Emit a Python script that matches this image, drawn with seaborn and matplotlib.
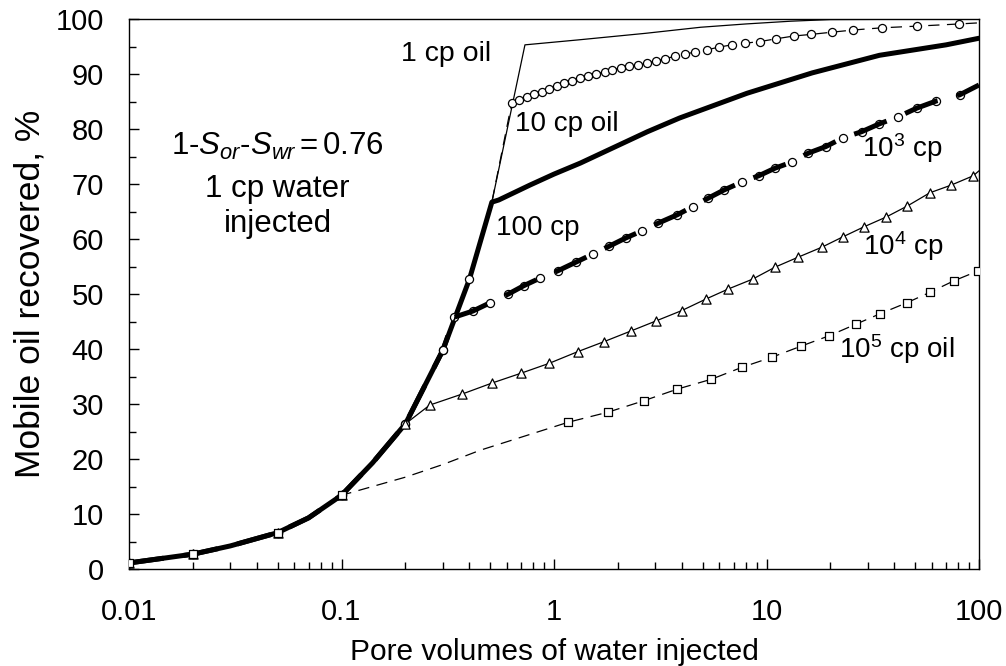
import matplotlib
matplotlib.use("Agg")
import matplotlib.pyplot as plt
from matplotlib.ticker import FixedLocator, FixedFormatter, LogLocator, MultipleLocator, NullFormatter
import seaborn as sns

# early part shared by every curve: pore volumes injected, % mobile oil recovered
pv_early = [0.01, 0.02, 0.03, 0.05, 0.07, 0.1, 0.14, 0.2, 0.3, 0.4, 0.51]
rec_early = [1.1, 2.7, 4.2, 6.6, 9.3, 13.4, 19.3, 26.4, 39.8, 52.7, 66.7]
# marked points on the shared part
mark_pv = [0.01, 0.02, 0.05, 0.1, 0.2, 0.3, 0.4]
mark_rec = [1.1, 2.7, 6.6, 13.4, 26.4, 39.8, 52.7]

# 1 cp oil
pv_1cp = [0.73, 1.3, 2.7, 4.9, 8.0, 13, 20, 100]
rec_1cp = [95.3, 96.2, 97.4, 98.5, 99.1, 99.6, 99.9, 100]

# 10 cp oil (circles)
pv_10cp = [0.632, 0.687, 0.744, 0.805, 0.875, 0.951, 1.03, 1.12, 1.22, 1.32,
           1.44, 1.58, 1.73, 1.88, 2.06, 2.26, 2.48, 2.73, 3.02, 3.33, 3.71,
           4.13, 4.61, 5.24, 6.0, 6.86, 7.92, 9.32, 11.1, 13.4, 16.2, 20.3,
           25.6, 34.9, 50.9, 80.7]
rec_10cp = [84.7, 85.3, 85.8, 86.3, 86.8, 87.3, 87.8, 88.3, 88.8, 89.2,
            89.6, 90.0, 90.4, 90.8, 91.1, 91.4, 91.7, 92.0, 92.4, 92.8, 93.2,
            93.6, 94.0, 94.4, 94.9, 95.3, 95.6, 95.9, 96.4, 96.9, 97.2, 97.6,
            98.0, 98.4, 98.7, 99.1]
pv_10cp_end, rec_10cp_end = 100, 99.3

# 100 cp oil
pv_100cp = [0.55, 0.77, 1.0, 1.33, 2.75, 3.9, 8.1, 16.4, 34, 70, 100]
rec_100cp = [67.1, 69.8, 71.8, 73.8, 79.5, 82.0, 86.5, 90.2, 93.4, 95.3, 96.5]

# 10^3 cp oil (circles)
pv_1e3 = [0.34, 0.415, 0.50, 0.61, 0.72, 0.86, 1.04, 1.27, 1.53, 1.82, 2.18,
          2.6, 3.1, 3.8, 4.5, 5.3, 6.3, 7.7, 9.2, 11, 13.2, 15.7, 19, 22.9,
          28, 33.8, 41.5, 51, 63, 81]
rec_1e3 = [45.8, 46.9, 48.4, 50.0, 51.5, 52.9, 54.2, 55.8, 57.3, 58.7, 60.2,
           61.5, 62.9, 64.4, 65.9, 67.4, 68.9, 70.4, 71.5, 72.9, 74.0, 75.6,
           76.8, 78.4, 79.5, 80.9, 82.2, 83.8, 85.1, 86.2]
pv_1e3_end, rec_1e3_end = 100, 88.0

# 10^4 cp oil (triangles)
pv_1e4 = [0.26, 0.369, 0.51, 0.70, 0.95, 1.29, 1.71, 2.31, 3.02, 4.0, 5.2,
          6.6, 8.6, 11.0, 14.1, 18.2, 22.9, 28.7, 36.6, 46, 58.7, 74, 94]
rec_1e4 = [29.8, 31.8, 33.8, 35.6, 37.4, 39.5, 41.3, 43.3, 45.1, 47.0, 49.1,
           50.9, 52.7, 54.9, 56.7, 58.5, 60.4, 62.2, 64.0, 66.0, 68.4, 69.8, 71.5]
pv_1e4_end, rec_1e4_end = 100, 72.4

# 10^5 cp oil (squares), with the unmarked stretch after 0.1 PV
pv_1e5_line = [0.2, 0.3, 0.45]
rec_1e5_line = [16.7, 19.0, 21.6]
pv_1e5 = [1.17, 1.79, 2.65, 3.8, 5.5, 7.7, 10.6, 14.5, 19.7, 26.3, 34.2,
          45.7, 58.7, 76.2, 99]
rec_1e5 = [26.7, 28.5, 30.6, 32.7, 34.5, 36.7, 38.5, 40.5, 42.4, 44.5, 46.4,
           48.4, 50.3, 52.4, 54.2]

x_ticks = [0.01, 0.1, 1, 10, 100]
x_tick_labels = ["0.01", "0.1", "1", "10", "100"]

sns.set_style("ticks")
plt.rcParams["font.family"] = ["Liberation Sans", "DejaVu Sans"]
plt.rcParams["mathtext.fontset"] = "custom"
plt.rcParams["mathtext.rm"] = "Liberation Sans"
plt.rcParams["mathtext.it"] = "Liberation Sans:italic"
plt.rcParams["text.color"] = "black"
plt.rcParams["axes.labelcolor"] = "black"

fig = plt.figure(figsize=(10.06, 6.66), dpi=100)
ax = fig.add_axes([129 / 1006, 1 - 569 / 666, 850 / 1006, 550 / 666])

thin = 0.9
thick = 3.6
dash_thin = (0, (9, 6))

# 100 cp: thick solid
sns.lineplot(x=pv_early + pv_100cp, y=rec_early + rec_100cp, ax=ax,
             color="black", linewidth=thick, sort=False, estimator=None, zorder=2)

# 10^3 cp: circles under a thick dashed line
sns.scatterplot(x=mark_pv[:6] + pv_1e3, y=mark_rec[:6] + rec_1e3, ax=ax,
                marker="o", s=34, facecolor="white", edgecolor="black",
                linewidth=0.9, zorder=3)
sns.lineplot(x=pv_early[:9] + pv_1e3 + [pv_1e3_end],
             y=rec_early[:9] + rec_1e3 + [rec_1e3_end], ax=ax,
             color="black", linewidth=thick, linestyle=(0, (7, 4)),
             sort=False, estimator=None, zorder=4)

# 1 cp: thin solid
sns.lineplot(x=pv_early + pv_1cp, y=rec_early + rec_1cp, ax=ax,
             color="black", linewidth=thin, sort=False, estimator=None, zorder=5)

# 10 cp: thin dashed with circles
sns.lineplot(x=pv_early + pv_10cp + [pv_10cp_end],
             y=rec_early + rec_10cp + [rec_10cp_end], ax=ax,
             color="black", linewidth=thin, linestyle=dash_thin,
             sort=False, estimator=None, zorder=5)
sns.scatterplot(x=mark_pv + pv_10cp, y=mark_rec + rec_10cp, ax=ax,
                marker="o", s=34, facecolor="white", edgecolor="black",
                linewidth=0.9, zorder=6)

# 10^4 cp: thin solid with triangles
sns.lineplot(x=pv_early[:8] + pv_1e4 + [pv_1e4_end],
             y=rec_early[:8] + rec_1e4 + [rec_1e4_end], ax=ax,
             color="black", linewidth=thin, sort=False, estimator=None, zorder=5)
sns.scatterplot(x=mark_pv[:5] + pv_1e4, y=mark_rec[:5] + rec_1e4, ax=ax,
                marker="^", s=44, facecolor="white", edgecolor="black",
                linewidth=0.9, zorder=6)

# 10^5 cp: thin dashed with squares
sns.lineplot(x=pv_early[:6] + pv_1e5_line + pv_1e5,
             y=rec_early[:6] + rec_1e5_line + rec_1e5, ax=ax,
             color="black", linewidth=thin, linestyle=dash_thin,
             sort=False, estimator=None, zorder=5)
sns.scatterplot(x=mark_pv[:4] + pv_1e5, y=mark_rec[:4] + rec_1e5, ax=ax,
                marker="s", s=30, facecolor="white", edgecolor="black",
                linewidth=0.9, zorder=6)

ax.set_xscale("log")
ax.set_xlim(0.01, 100)
ax.set_ylim(0, 100)
ax.xaxis.set_major_locator(FixedLocator(x_ticks))
ax.xaxis.set_major_formatter(FixedFormatter(x_tick_labels))
ax.xaxis.set_minor_locator(LogLocator(base=10, subs=range(2, 10)))
ax.xaxis.set_minor_formatter(NullFormatter())
ax.yaxis.set_major_locator(MultipleLocator(10))
ax.yaxis.set_minor_locator(MultipleLocator(5))

ax.tick_params(which="both", direction="in", top=False, right=False,
               color="black", width=1.0, labelsize=21, labelcolor="black")
ax.tick_params(which="major", length=7)
ax.tick_params(which="minor", length=5)
ax.tick_params(axis="x", which="major", pad=21)
ax.tick_params(axis="y", which="major", pad=18)
for side in ["left", "bottom", "top", "right"]:
    ax.spines[side].set_visible(True)
    ax.spines[side].set_color("black")
    ax.spines[side].set_linewidth(1.0)

ax.set_xlabel("Pore volumes of water injected", fontsize=21.5)
ax.set_ylabel("Mobile oil recovered, %", fontsize=25.5)
ax.xaxis.set_label_coords(0.5, -0.125)
ax.yaxis.set_label_coords(-0.097, 0.5)

# curve labels
lab = 20
note = 22.5
ax.text(0.05, 75.3, r"1-$S_{or}$-$S_{wr}\,$=$\,$0.76", fontsize=note,
        ha="center", va="baseline")
ax.text(0.05, 67.6, "1 cp water", fontsize=note, ha="center", va="baseline")
ax.text(0.05, 61.2, "injected", fontsize=note, ha="center", va="baseline")
ax.text(0.31, 92.4, "1 cp oil", fontsize=20.5, ha="center", va="baseline")
ax.text(1.15, 79.6, "10 cp oil", fontsize=lab, ha="center", va="baseline")
ax.text(0.84, 60.7, "100 cp", fontsize=lab, ha="center", va="baseline")
ax.text(43.5, 74.9, r"10$^3$ cp", fontsize=lab, ha="center", va="baseline")
ax.text(43.9, 57.1, r"10$^4$ cp", fontsize=lab, ha="center", va="baseline")
ax.text(40.8, 38.4, r"10$^5$ cp oil", fontsize=lab, ha="center", va="baseline")

fig.savefig("out.png", dpi=100)
